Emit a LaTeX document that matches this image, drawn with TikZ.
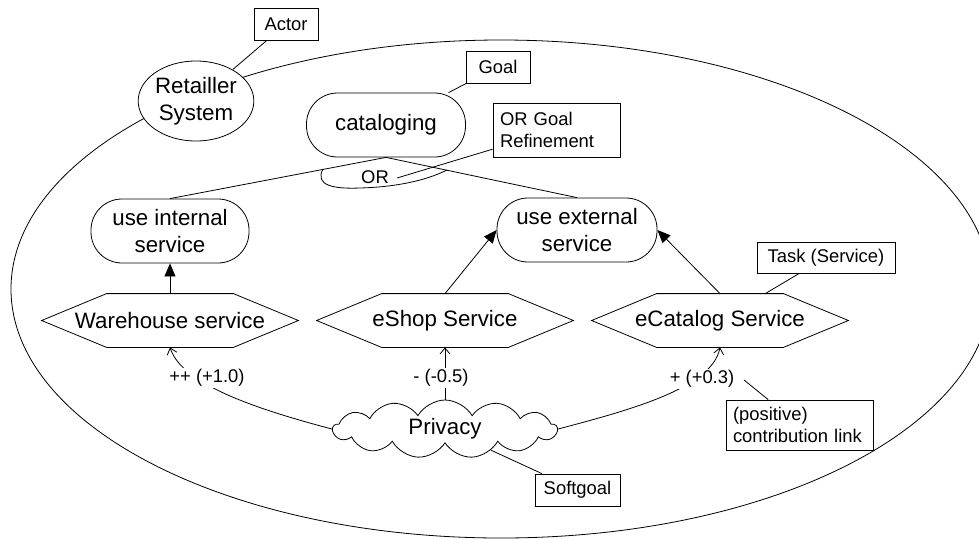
\documentclass[tikz,border=0pt]{standalone}
\usepackage{fontspec}
\setmainfont{Liberation Sans}
\usetikzlibrary{shapes.symbols,shapes.geometric,arrows.meta}
\newcommand\hexagonal[1]{\draw ([xshift=65pt]#1.north west) -- ([xshift=-65pt]#1.north east) -- (#1.east) -- ([xshift=-65pt]#1.south east) -- ([xshift=65pt]#1.south west) -- (#1.west) -- cycle;}
\begin{document}
\begin{tikzpicture}[x=1pt,y=-1pt,line width=0.8pt,
  bigtext/.style={font=\fontsize{22.3}{26.5}\selectfont,align=center},
  smalltext/.style={font=\fontsize{18.4}{21.5}\selectfont},
  lbl/.style={smalltext,draw,fill=white,inner sep=0pt},
  goalnode/.style={bigtext,draw,fill=white,rounded corners=31pt,minimum width=158pt,minimum height=64pt,inner sep=0pt},
  tasknode/.style={bigtext,minimum width=256pt,minimum height=53pt,inner sep=0pt},
  contrib/.style={-{Straight Barb[length=6pt,width=10pt]}},
  dep/.style={-{Triangle[length=13pt,width=11pt]}},
  clab/.style={smalltext,fill=white,inner sep=1.5pt}
]
\useasboundingbox (0,0) rectangle (979,539);
% actor boundary
\draw (501,289) ellipse [x radius=490, y radius=249];

% main nodes
\node[bigtext,draw,fill=white,ellipse,minimum width=106pt,minimum height=80pt,inner sep=0pt] (ret) at (196,101) {Retailler\\System};
\node[goalnode,minimum width=159pt] (cat) at (386,125) {cataloging};
\node[goalnode] (uint) at (170,231) {use internal\\service};
\node[goalnode,minimum width=160pt] (uext) at (577,230) {use external\\service};
\node[tasknode] (wh) at (170,320.5) {Warehouse service};
\node[tasknode] (eshop) at (445,320.5) {eShop Service};
\node[tasknode] (ecat) at (720,320.5) {eCatalog Service};
\hexagonal{wh}
\hexagonal{eshop}
\hexagonal{ecat}
\node[bigtext,draw,fill=white,cloud,cloud puffs=13,cloud puff arc=120,cloud ignores aspect,minimum width=224pt,minimum height=58pt,inner sep=0pt] (priv) at (445,429) {Privacy};

% legend boxes
\node[lbl,minimum width=64pt,minimum height=32pt] (actor) at (286,24) {Actor};
\node[lbl,minimum width=64pt,minimum height=32pt] (goal) at (498,67) {Goal};
\node[lbl,text width=113pt,inner xsep=7pt,minimum height=54pt,align=left] (orref) at (556.5,130) {OR Goal\\Refinement};
\node[lbl,minimum width=138pt,minimum height=31pt] (taskl) at (826,257.5) {Task (Service)};
\node[lbl,text width=133pt,inner xsep=7pt,minimum height=50pt,align=left] (posl) at (799.5,425) {(positive)\\contribution link};
\node[lbl,minimum width=85pt,minimum height=32pt] (soft) at (577.5,490) {Softgoal};

% legend connectors
\draw (actor) -- (ret);
\draw (goal) -- (cat);
\draw (taskl) -- (ecat);
\draw (soft) -- (priv);

% OR refinement
\draw (cat.south) -- (uint.north);
\draw (cat.south) -- (uext.north);
\draw (323,169) .. controls (314,186) and (335,189) .. (360,188) .. controls (395,187) and (425,181) .. (447,170);
\node[smalltext,inner sep=0pt] (ortext) at (375,177) {OR};
\coordinate (orend) at (397,178);
\draw (orref) -- (orend);

% means-end links
\draw[dep] (wh.north) -- (uint.south);
\draw[dep] (eshop.north) -- (uext.west);
\draw[dep] (ecat.north) -- (uext.east);

% contributions
\draw[contrib] (priv.west) .. controls (260,410) and (182,385) .. (wh.south);
\draw[contrib] (priv.north) -- (eshop.south);
\draw[contrib] (priv.east) .. controls (630,410) and (712,388) .. (ecat.south);
\node[clab] (c1) at (207,378) {++ (+1.0)};
\node[clab] (c2) at (441,378) {- (-0.5)};
\node[clab] (c3) at (702,379) {+ (+0.3)};
\coordinate (pl) at (744,380);
\draw (posl) -- (pl);
\end{tikzpicture}
\end{document}
